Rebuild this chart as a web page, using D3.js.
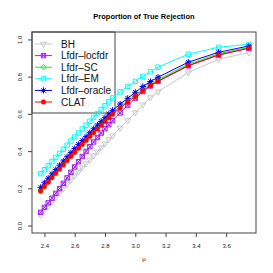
<!DOCTYPE html>
<html lang="en">
  <head>
    <meta charset="utf-8">
    <title>Proportion of True Rejection</title>
    <script src="https://unpkg.com/d3@7/dist/d3.min.js"></script>
    <style type="text/css">
body,html{
    margin: 0;
    padding: 0;
    background: #fff;
    font-family: "Liberation Sans", Arial, sans-serif;
  }
    </style>
  </head>
  <body>
    <script type="text/javascript">
      // mu grid (x values)
      const mu = [2.375, 2.4, 2.425, 2.45, 2.475, 2.5, 2.525, 2.55, 2.575, 2.6,
                  2.625, 2.65, 2.675, 2.7, 2.725, 2.75, 2.775, 2.8, 2.825, 2.85,
                  2.9, 2.95, 3.0, 3.05, 3.1, 3.15, 3.35, 3.55, 3.75];

      // proportion of true rejection, one array per method
      const bh =     [.057,.081,.105,.128,.152,.175,.198,.222,.245,.268,.290,.311,.333,.354,.376,.397,.419,.440,.462,.483,
                      .525,.565,.607,.649,.688,.720,.822,.894,.929];
      const locfdr = [.071,.098,.122,.147,.173,.199,.227,.256,.286,.315,.343,.371,.398,.424,.449,.473,.497,.520,.542,.563,
                      .605,.645,.683,.720,.750,.774,.858,.916,.953];
      const sc =     [.191,.216,.240,.264,.287,.310,.333,.356,.378,.400,.422,.443,.464,.485,.506,.526,.546,.566,.586,.605,
                      .639,.670,.701,.731,.759,.784,.867,.923,.958];
      const em =     [.279,.300,.322,.344,.366,.388,.410,.432,.454,.476,.497,.518,.539,.560,.581,.602,.623,.644,.665,.686,
                      .718,.748,.775,.802,.827,.851,.921,.958,.974];
      const oracle = [.205,.230,.254,.278,.301,.324,.347,.370,.392,.414,.436,.457,.478,.499,.520,.540,.560,.580,.600,.619,
                      .653,.684,.716,.747,.774,.797,.878,.931,.965];
      const clat =   [.184,.209,.233,.257,.280,.303,.326,.349,.371,.393,.415,.436,.457,.478,.499,.519,.539,.559,.579,.598,
                      .632,.663,.694,.724,.752,.777,.860,.917,.953];

      const names = ["BH", "Lfdr–locfdr", "Lfdr–SC", "Lfdr–EM", "Lfdr–oracle", "CLAT"];
      const colors = ["#c8c8c8", "#a020f0", "#00ff00", "#00ffff", "#0000ff", "#ff0000"];
      const shapes = ["triDown", "sqX", "diamond", "square", "star", "dot"];
      const values = [bh, locfdr, sc, em, oracle, clat];

      const xTicks = [2.4, 2.6, 2.8, 3.0, 3.2, 3.4, 3.6];
      const yTicks = [0, 0.2, 0.4, 0.6, 0.8, 1.0];

      let w = 273, h = 273;
      let box = {left: 32, right: 256, top: 32, bottom: 233};

      const x = d3.scaleLinear().domain([2.318, 3.797]).range([box.left, box.right]);
      const y = d3.scaleLinear().domain([-0.04, 1.04]).range([box.bottom, box.top]);

      const svg = d3.select("body")
        .append("svg")
        .attr("width", w)
        .attr("height", h);

      // R-ish plotting symbols, R0 ~ symbol radius
      const R0 = 2.2;
      function sym(type) {
        const r = R0;
        switch (type) {
          case "triDown": {
            const xc = 1.347 * r, yt = 0.778 * r, yb = 1.555 * r;
            return `M${-xc},${-yt}L${xc},${-yt}L0,${yb}Z`;
          }
          case "sqX":
            return `M${-r},${-r}H${r}V${r}H${-r}Z M${-r},${-r}L${r},${r} M${-r},${r}L${r},${-r}`;
          case "diamond": {
            const d = 1.253 * r;
            return `M0,${-d}L${d},0L0,${d}L${-d},0Z`;
          }
          case "square":
            return `M${-r},${-r}H${r}V${r}H${-r}Z`;
          case "star": {
            const p = 1.414 * r;
            return `M${-p},0H${p} M0,${-p}V${p} M${-r},${-r}L${r},${r} M${-r},${r}L${r},${-r}`;
          }
          default:
            return null;
        }
      }

      function drawPoint(g, type, color, px, py) {
        if (type === "dot") {
          g.append("circle").attr("cx", px).attr("cy", py).attr("r", R0 + 0.1)
            .attr("fill", color).attr("stroke", color).attr("stroke-width", 0.5);
        } else {
          g.append("path").attr("d", sym(type))
            .attr("transform", `translate(${px},${py})`)
            .attr("fill", "none").attr("stroke", color).attr("stroke-width", 1);
        }
      }

      // title
      svg.append("text")
        .attr("x", 144).attr("y", 18.5)
        .attr("text-anchor", "middle")
        .attr("font-size", 7.5).attr("font-weight", "bold")
        .text("Proportion of True Rejection");

      // axes
      const xAxis = svg.append("g")
        .attr("transform", `translate(0,${box.bottom})`)
        .call(d3.axisBottom(x).tickValues(xTicks).tickSize(4).tickPadding(6.5)
          .tickFormat(d3.format(".1f")));
      xAxis.select(".domain").remove();
      xAxis.selectAll("text").attr("font-size", 6).attr("font-family", "Liberation Sans, Arial, sans-serif").attr("fill", "#222");
      xAxis.selectAll("line").attr("stroke", "#444");

      const yAxis = svg.append("g")
        .attr("transform", `translate(${box.left},0)`)
        .call(d3.axisLeft(y).tickValues(yTicks).tickSize(4).tickFormat(d3.format(".1f")));
      yAxis.select(".domain").remove();
      yAxis.selectAll("line").attr("stroke", "#444");
      yAxis.selectAll("text")
        .attr("font-size", 6).attr("font-family", "Liberation Sans, Arial, sans-serif").attr("fill", "#222")
        .attr("text-anchor", "middle")
        .attr("x", 0).attr("y", -10).attr("dy", 0)
        .attr("transform", "rotate(-90)");

      svg.append("text")
        .attr("x", 144).attr("y", 261)
        .attr("text-anchor", "middle")
        .attr("font-size", 6).attr("fill", "#222")
        .text("μ");

      // legend (drawn before series, no background)
      const leg = svg.append("g");
      leg.append("rect")
        .attr("x", box.left).attr("y", box.top)
        .attr("width", 83).attr("height", 81)
        .attr("fill", "none").attr("stroke", "#444").attr("stroke-width", 1);
      names.forEach((n, i) => {
        const ly = 44 + i * 11.6;
        leg.append("line").attr("x1", 35).attr("x2", 52).attr("y1", ly).attr("y2", ly)
          .attr("stroke", colors[i]).attr("stroke-width", 1);
        drawPoint(leg, shapes[i], colors[i], 43.5, ly);
        leg.append("text").attr("x", 61).attr("y", ly + 3.6)
          .attr("font-size", 10).attr("fill", "#111").text(n);
      });

      // series
      const line = d3.line().x(d => x(d[0])).y(d => y(d[1]));
      values.forEach((vals, i) => {
        const pts = mu.map((m, j) => [m, vals[j]]);
        const g = svg.append("g");
        g.append("path").attr("d", line(pts))
          .attr("fill", "none").attr("stroke", colors[i]).attr("stroke-width", 1);
        pts.forEach(p => drawPoint(g, shapes[i], colors[i], x(p[0]), y(p[1])));
      });

      // plot box
      svg.append("rect")
        .attr("x", box.left).attr("y", box.top)
        .attr("width", box.right - box.left).attr("height", box.bottom - box.top)
        .attr("fill", "none").attr("stroke", "#444").attr("stroke-width", 1);
    </script>
  </body>
</html>
